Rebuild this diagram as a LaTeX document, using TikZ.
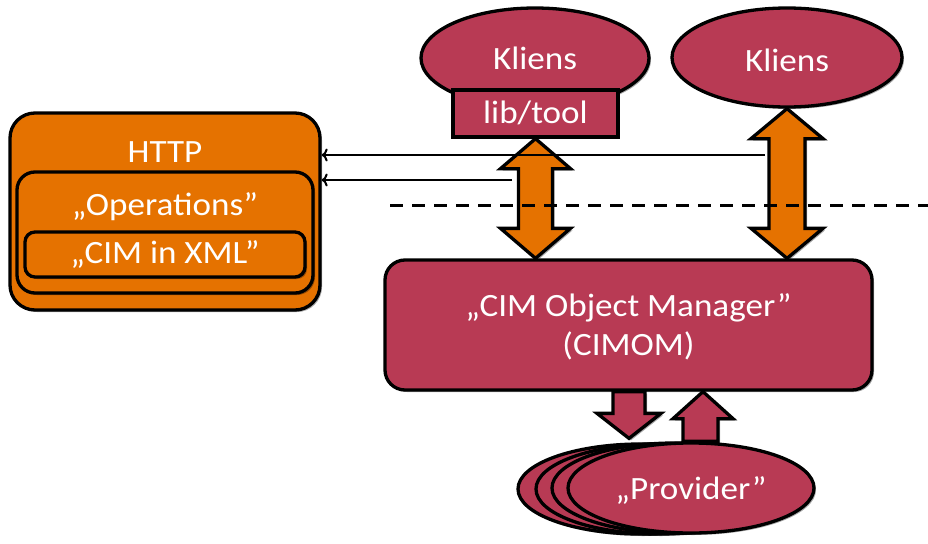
\documentclass[tikz,border=0pt]{standalone}
\usepackage{fontspec}
\setmainfont{Carlito}[FakeStretch=1.08]
\usetikzlibrary{shapes.geometric,shadows,calc,arrows.meta}
\definecolor{crim}{RGB}{184,58,84}
\definecolor{orng}{RGB}{229,114,0}
\begin{document}
\begin{tikzpicture}[x=1pt,y=1pt,
  shd/.style={drop shadow={shadow xshift=2pt,shadow yshift=-2pt,opacity=0.35,fill=black}},
  obox/.style={draw=black,line width=3.3pt,fill=orng,shd,inner sep=0pt},
  cbox/.style={draw=black,line width=3.3pt,fill=crim,shd,inner sep=0pt},
  cell/.style={ellipse,draw=black,line width=3.3pt,fill=crim,shd,inner sep=0pt},
  txt/.style={text=white,font=\fontsize{32.5}{39}\selectfont,inner sep=0pt,align=center},
  bigo/.style={draw=black,line width=3.3pt,fill=orng,line join=miter,shd},
  bigc/.style={draw=black,line width=3.3pt,fill=crim,line join=miter,shd},
  thin/.style={draw=black,line width=2pt,-{To[length=6pt,width=13pt]}},
  dashl/.style={draw=black,line width=3pt,dash pattern=on 13pt off 9pt}
]
\useasboundingbox (0,0) rectangle (928,-543);
% HTTP stack
\node[obox,rounded corners=25pt,minimum width=310pt,minimum height=197pt] (http) at (165,-211.5) {};
\node[obox,rounded corners=18pt,minimum width=296pt,minimum height=121pt] (ops) at (165,-232.5) {};
\node[obox,rounded corners=10pt,minimum width=280pt,minimum height=45pt] (xml) at (165,-254.5) {};
\node[txt] (httpt) at (165,-152) {HTTP};
\node[txt] (opst) at (165,-207) {„Operations”};
\node[txt] (xmlt) at (165,-254) {„CIM in XML”};
% Clients
\node[cell,minimum width=228pt,minimum height=100pt] (kl1) at (535,-58) {};
\node[txt] (kl1t) at (535,-58) {Kliens};
\node[cbox,minimum width=165pt,minimum height=47pt] (lib) at (535.5,-113.5) {};
\node[txt] (libt) at (535.5,-113) {lib/tool};
\node[cell,minimum width=230pt,minimum height=99pt] (kl2) at (787,-57.5) {};
\node[txt] (kl2t) at (787,-60) {Kliens};
% CIMOM
\node[cbox,rounded corners=20pt,minimum width=487pt,minimum height=130pt] (cimom) at (628.5,-325) {};
\node[txt] (cimomt) at (628.5,-327) {„CIM Object Manager”\\(CIMOM)};
% Providers
\node[cell,minimum width=246pt,minimum height=90pt] (p4) at (641,-489) {};
\node[cell,minimum width=246pt,minimum height=90pt] (p3) at (659,-489) {};
\node[cell,minimum width=246pt,minimum height=90pt] (p2) at (675,-488) {};
\node[cell,minimum width=246pt,minimum height=90pt] (p1) at (691,-488) {};
\node[txt] (p1t) at (691,-490) {„Provider”};
% big double arrows
\draw[bigo] let \p1=(lib.south), \p2=($(cimom.north west)!(lib.south)!(cimom.north east)$) in
  (\x1,\y1) -- (\x1-35pt,\y1-30pt) -- (\x1-17pt,\y1-30pt) -- (\x1-17pt,\y2+30pt) -- (\x1-35pt,\y2+30pt)
  -- (\x2,\y2) -- (\x1+35pt,\y2+30pt) -- (\x1+17pt,\y2+30pt) -- (\x1+17pt,\y1-30pt) -- (\x1+35pt,\y1-30pt) -- cycle;
\draw[bigo] let \p1=(kl2.south), \p2=($(cimom.north west)!(kl2.south)!(cimom.north east)$) in
  (\x1,\y1) -- (\x1-36pt,\y1-30pt) -- (\x1-18pt,\y1-30pt) -- (\x1-18pt,\y2+30pt) -- (\x1-36pt,\y2+30pt)
  -- (\x2,\y2) -- (\x1+36pt,\y2+30pt) -- (\x1+18pt,\y2+30pt) -- (\x1+18pt,\y1-30pt) -- (\x1+36pt,\y1-30pt) -- cycle;
% small arrows CIMOM <-> Provider
\draw[bigc] let \p1=(cimom.south), \p2=(p1.north) in
  (629,\y1) -- (645,\y1) -- (645,\y2+28pt) -- (661,\y2+28pt) -- (629,\y2+3pt) -- (597,\y2+28pt) -- (613,\y2+28pt) -- (613,\y1) -- cycle;
\draw[bigc] let \p1=(cimom.south), \p2=(p1.north) in
  (683,\y2) -- (718,\y2) -- (718,\y1-27pt) -- (733,\y1-27pt) -- (703,\y1) -- (673,\y1-27pt) -- (683,\y1-27pt) -- cycle;
% thin arrows and dashed line
\coordinate (a1) at (765,-155);
\coordinate (a2) at (512,-180);
\draw[thin] (a1) -- (a1 -| http.east);
\draw[thin] (a2) -- (a2 -| http.east);
\coordinate (d1) at (390,-205);
\coordinate (d2) at (928,-205);
\draw[dashl] (d1) -- (d2);
\end{tikzpicture}
\end{document}
